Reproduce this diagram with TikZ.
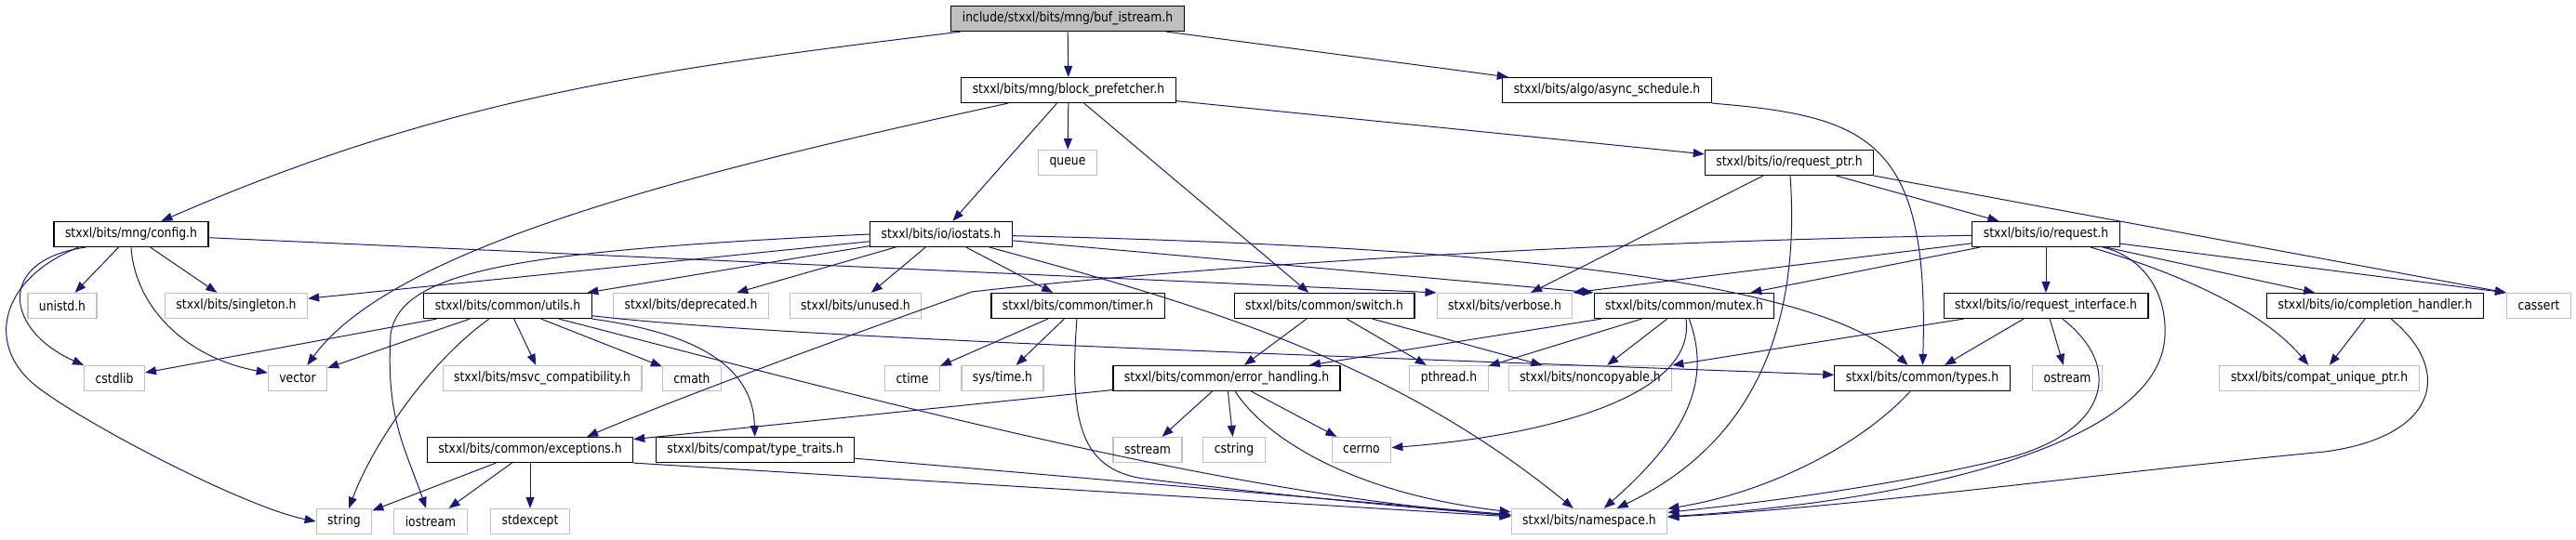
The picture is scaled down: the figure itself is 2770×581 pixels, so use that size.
\documentclass[tikz,border=0pt]{standalone}
\usepackage{fontspec}
\setmainfont{DejaVu Sans}[FakeStretch=0.86]
\usetikzlibrary{arrows.meta}
\definecolor{edgeblue}{RGB}{25,25,112}
\definecolor{boxgray}{RGB}{191,191,191}
\tikzset{
  incbox/.style={draw=black, line width=0.6pt, fill=white, minimum height=13.5pt,
    inner xsep=6pt, inner ysep=0pt, font=\fontsize{7.2}{8}\selectfont},
  extbox/.style={incbox, draw=boxgray},
  rootbox/.style={incbox, fill=boxgray},
  incl/.style={draw=edgeblue, line width=0.5pt, -{Triangle[length=6pt,width=4.5pt]}},
}
\begin{document}
\begin{tikzpicture}[x=0.5pt, y=-0.5pt]
      \useasboundingbox (0,0) rectangle (2770,581);

      % Top levels
      \node[rootbox] (root) at (1148,20) {include/stxxl/bits/mng/buf\_istream.h};
      \node[incbox] (prefetcher) at (1149,97) {stxxl/bits/mng/block\_prefetcher.h};
      \node[incbox] (async) at (1728,97) {stxxl/bits/algo/async\_schedule.h};
      \node[extbox] (queue) at (1148,175) {queue};
      \node[incbox] (reqptr) at (1924,175) {stxxl/bits/io/request\_ptr.h};
      \node[incbox] (config) at (141,252) {stxxl/bits/mng/config.h};
      \node[incbox] (iostats) at (1012,252) {stxxl/bits/io/iostats.h};
      \node[incbox] (request) at (2200,252) {stxxl/bits/io/request.h};

      % Middle row
      \node[extbox] (unistd) at (67,329) {unistd.h};
      \node[extbox] (singleton) at (254,329) {stxxl/bits/singleton.h};
      \node[incbox] (utils) at (546,329) {stxxl/bits/common/utils.h};
      \node[extbox] (deprecated) at (743,329) {stxxl/bits/deprecated.h};
      \node[extbox] (unused) at (920,329) {stxxl/bits/unused.h};
      \node[incbox] (timer) at (1159,329) {stxxl/bits/common/timer.h};
      \node[incbox] (switch) at (1424,329) {stxxl/bits/common/switch.h};
      \node[extbox] (verbose) at (1618,329) {stxxl/bits/verbose.h};
      \node[incbox] (mutex) at (1811,329) {stxxl/bits/common/mutex.h};
      \node[incbox] (reqif) at (2200,329) {stxxl/bits/io/request\_interface.h};
      \node[incbox] (completion) at (2554,329) {stxxl/bits/io/completion\_handler.h};
      \node[extbox] (cassert) at (2730,329) {cassert};

      \node[extbox] (cstdlib) at (123,407) {cstdlib};
      \node[extbox] (vector) at (320,407) {vector};
      \node[extbox] (msvc) at (583,407) {stxxl/bits/msvc\_compatibility.h};
      \node[extbox] (cmath) at (744,407) {cmath};
      \node[extbox] (ctime) at (981,407) {ctime};
      \node[extbox] (systime) at (1078,407) {sys/time.h};
      \node[incbox] (errh) at (1319,407) {stxxl/bits/common/error\_handling.h};
      \node[extbox] (pthread) at (1558,407) {pthread.h};
      \node[extbox] (noncopyable) at (1710,407) {stxxl/bits/noncopyable.h};
      \node[incbox] (types) at (2067,407) {stxxl/bits/common/types.h};
      \node[extbox] (ostream) at (2223,407) {ostream};
      \node[extbox] (uniqueptr) at (2494,407) {stxxl/bits/compat\_unique\_ptr.h};

      % Bottom rows
      \node[incbox] (exceptions) at (570,484) {stxxl/bits/common/exceptions.h};
      \node[incbox] (typetraits) at (812,484) {stxxl/bits/compat/type\_traits.h};
      \node[extbox] (sstream) at (1234,484) {sstream};
      \node[extbox] (cstring) at (1327,484) {cstring};
      \node[extbox] (cerrno) at (1464,484) {cerrno};
      \node[extbox] (string) at (370,561) {string};
      \node[extbox] (iostream) at (463,561) {iostream};
      \node[extbox] (stdexcept) at (570,561) {stdexcept};
      \node[extbox] (namespace) at (1709,561) {stxxl/bits/namespace.h};

      % buf_istream.h
      \draw[incl] (root) .. controls (700,75) and (480,105) .. (config);
      \draw[incl] (root) -- (prefetcher);
      \draw[incl] (root) -- (async);

      % block_prefetcher.h
      \draw[incl] (prefetcher) -- (queue);
      \draw[incl] (prefetcher) -- (iostats);
      \draw[incl] (prefetcher) -- (switch);
      \draw[incl] (prefetcher) -- (reqptr);
      \draw[incl] (prefetcher) .. controls (720,190) and (420,270) .. (vector);

      % async_schedule.h
      \draw[incl] (async.south east) .. controls (2010,125) and (2075,150) .. (types);

      % config.h
      \draw[incl] (config) -- (unistd);
      \draw[incl] (config) -- (singleton);
      \draw[incl] (config) -- (verbose.north west);
      \draw[incl] (config.196) .. controls (-5,280) and (5,355) .. (cstdlib.north west);
      \draw[incl] (config.south) .. controls (145,330) and (200,385) .. (vector);
      \draw[incl] (config.194) .. controls (0,300) and (-15,370) .. (36,413)
        .. controls (80,450) and (260,545) .. (string.west);

      % iostats.h
      \draw[incl] (iostats) -- (singleton);
      \draw[incl] (iostats) -- (utils);
      \draw[incl] (iostats) -- (deprecated);
      \draw[incl] (iostats) -- (unused);
      \draw[incl] (iostats) -- (timer);
      \draw[incl] (iostats) -- (mutex.north west);
      \draw[incl] (iostats) .. controls (1600,265) and (1950,300) .. (types);
      \draw[incl] (iostats) .. controls (1300,330) and (1500,390) .. (namespace);
      \draw[incl] (iostats.west) .. controls (560,270) and (430,290) .. (420,360)
        .. controls (415,450) and (435,480) .. (iostream);

      % utils.h
      \draw[incl] (utils) -- (cstdlib);
      \draw[incl] (utils) -- (vector);
      \draw[incl] (utils) -- (msvc);
      \draw[incl] (utils) -- (cmath);
      \draw[incl] (utils) .. controls (460,390) and (400,480) .. (string);
      \draw[incl] (utils.south east) .. controls (760,360) and (810,400) .. (typetraits);
      \draw[incl] (utils) .. controls (850,365) and (1500,385) .. (types);
      \draw[incl] (utils) .. controls (900,420) and (1300,530) .. (namespace);

      % exceptions.h, type_traits.h
      \draw[incl] (exceptions) -- (string);
      \draw[incl] (exceptions) -- (iostream);
      \draw[incl] (exceptions) -- (stdexcept);
      \draw[incl] (exceptions.south east) -- (namespace);
      \draw[incl] (typetraits) -- (namespace);

      % timer.h
      \draw[incl] (timer) -- (ctime);
      \draw[incl] (timer) -- (systime);
      \draw[incl] (timer) .. controls (1150,450) and (1160,505) .. (1230,515)
        .. controls (1350,530) and (1500,545) .. (namespace);

      % switch.h
      \draw[incl] (switch) -- (errh);
      \draw[incl] (switch) -- (pthread);
      \draw[incl] (switch) -- (noncopyable);

      % mutex.h
      \draw[incl] (mutex) -- (errh);
      \draw[incl] (mutex) -- (pthread);
      \draw[incl] (mutex) -- (noncopyable);
      \draw[incl] (mutex) .. controls (1825,430) and (1650,470) .. (cerrno);
      \draw[incl] (mutex) .. controls (1845,420) and (1800,480) .. (namespace);

      % error_handling.h
      \draw[incl] (errh) -- (exceptions);
      \draw[incl] (errh) -- (sstream);
      \draw[incl] (errh) -- (cstring);
      \draw[incl] (errh) -- (cerrno);
      \draw[incl] (errh) .. controls (1360,470) and (1450,530) .. (namespace);

      % request_ptr.h
      \draw[incl] (reqptr) -- (verbose);
      \draw[incl] (reqptr) -- (request);
      \draw[incl] (reqptr.south east) -- (cassert.north west);
      \draw[incl] (reqptr) .. controls (1935,330) and (1900,470) .. (namespace);

      % request.h
      \draw[incl] (request) .. controls (1600,262) and (1180,298) .. (1045,314)
        .. controls (1000,330) and (760,415) .. (exceptions.13);
      \draw[incl] (request) -- (verbose.north east);
      \draw[incl] (request) -- (mutex);
      \draw[incl] (request) -- (reqif);
      \draw[incl] (request) -- (completion);
      \draw[incl] (request) -- (cassert.north west);
      \draw[incl] (request) .. controls (2330,290) and (2430,330) .. (uniqueptr);
      \draw[incl] (request) .. controls (2300,275) and (2330,310) .. (2328,360)
        .. controls (2325,480) and (2050,540) .. (namespace);

      % request_interface.h
      \draw[incl] (reqif) -- (noncopyable);
      \draw[incl] (reqif) -- (types);
      \draw[incl] (reqif) -- (ostream);
      \draw[incl] (reqif) .. controls (2290,400) and (2260,470) .. (2150,495)
        .. controls (2000,530) and (1850,545) .. (namespace);

      % completion_handler.h, types.h
      \draw[incl] (completion) -- (uniqueptr);
      \draw[incl] (completion) .. controls (2640,400) and (2620,470) .. (2500,486)
        .. controls (2250,510) and (2000,545) .. (namespace);
      \draw[incl] (types) .. controls (2000,480) and (1900,530) .. (namespace);
    \end{tikzpicture}
\end{document}
